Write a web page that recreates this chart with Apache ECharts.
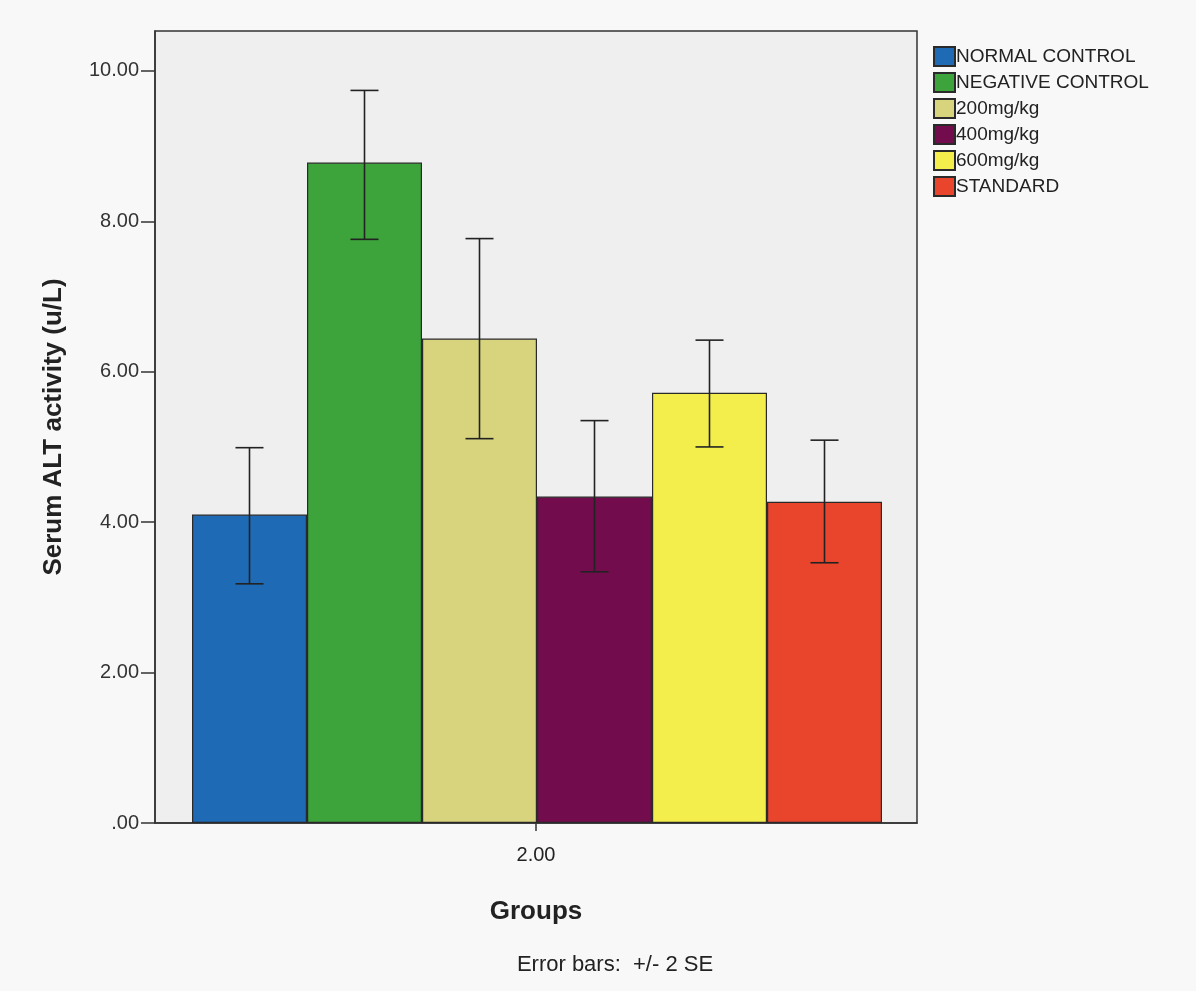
<!DOCTYPE html>
<html><head><meta charset="utf-8">
<script src="https://cdn.jsdelivr.net/npm/echarts@6/dist/echarts.min.js"></script>
<style>html,body{margin:0;padding:0;background:#f8f8f8;}#c{width:1196px;height:991px;}</style>
</head><body><div id="c"></div>
<script>
const groups = ['NORMAL CONTROL','NEGATIVE CONTROL','200mg/kg','400mg/kg','600mg/kg','STANDARD'];
const means = [4.10, 8.78, 6.44, 4.34, 5.72, 4.27];
const errLow = [3.18, 7.76, 5.11, 3.34, 5.00, 3.46];
const errHigh = [4.99, 9.74, 7.77, 5.35, 6.42, 5.09];
const colors = ['#1e6ab4','#3ca43a','#d8d47e','#720c4c','#f4ee4c','#e9442c'];
const xTick = ['2.00'];
const yTicks = [0, 2, 4, 6, 8, 10];
const yMax = 10.53;

const chart = echarts.init(document.getElementById('c'));
const font = 'Liberation Sans, Arial, sans-serif';
const barSeries = groups.map((g, i) => ({
  name: g, type: 'bar', stack: 'all', xAxisIndex: 1, yAxisIndex: 1, barWidth: '100%',
  data: groups.map((_, j) => j === i ? means[i] : '-'),
  itemStyle: { color: colors[i], borderColor: '#2a2a2a', borderWidth: 1.2 },
  emphasis: { disabled: true }
}));
const errSeries = {
  type: 'custom', xAxisIndex: 1, yAxisIndex: 1, z: 10,
  data: groups.map((_, i) => [i, errLow[i], errHigh[i]]),
  renderItem: function (params, api) {
    const lo = api.coord([api.value(0), api.value(1)]);
    const hi = api.coord([api.value(0), api.value(2)]);
    const hw = 14;
    const st = { stroke: '#222', lineWidth: 1.6 };
    return { type: 'group', children: [
      { type: 'line', shape: { x1: lo[0], y1: lo[1], x2: hi[0], y2: hi[1] }, style: st },
      { type: 'line', shape: { x1: lo[0]-hw, y1: lo[1], x2: lo[0]+hw, y2: lo[1] }, style: st },
      { type: 'line', shape: { x1: hi[0]-hw, y1: hi[1], x2: hi[0]+hw, y2: hi[1] }, style: st }
    ]};
  }
};
chart.setOption({
  backgroundColor: '#f8f8f8',
  animation: false,
  textStyle: { fontFamily: font },
  grid: [
    { left: 155, top: 31, right: 279, bottom: 168, show: true, backgroundColor: '#efefef', borderColor: '#333', borderWidth: 1.5 },
    { left: 192, top: 31, right: 314, bottom: 168, show: false }
  ],
  legend: {
    orient: 'vertical', left: 928, top: 41, itemWidth: 21, itemHeight: 19, itemGap: 5,
    icon: 'rect', data: groups,
    textStyle: { fontSize: 19, color: '#222', fontFamily: font, padding: [0,0,0,-4] }
  },
  title: {
    text: 'Error bars:  +/- 2 SE', left: 610, top: 949, textAlign: 'center',
    textStyle: { fontSize: 22, fontWeight: 'normal', color: '#222', fontFamily: font }
  },
  xAxis: [
    { type: 'category', data: xTick, gridIndex: 0, position: 'bottom',
      name: 'Groups', nameLocation: 'middle', nameGap: 76,
      nameTextStyle: { fontSize: 26, fontWeight: 'bold', color: '#222', fontFamily: font },
      axisLine: { show: true, lineStyle: { color: '#333', width: 1.5 } },
      axisTick: { show: true, alignWithLabel: true, length: 8, lineStyle: { color: '#333', width: 1.5 } },
      axisLabel: { fontSize: 20, color: '#222', margin: 22, fontFamily: font } },
    { type: 'category', data: groups, gridIndex: 1,
      axisLine: { show: false }, axisTick: { show: false }, axisLabel: { show: false }, splitLine: { show: false } }
  ],
  yAxis: [
    { type: 'value', gridIndex: 0, min: 0, max: yMax, interval: 2,
      name: 'Serum ALT activity (u/L)', nameLocation: 'middle', nameGap: 88, nameRotate: 90,
      nameTextStyle: { fontSize: 26, fontWeight: 'bold', color: '#222', fontFamily: font },
      axisLine: { show: true, lineStyle: { color: '#333', width: 1.5 } },
      axisTick: { show: true, length: 14, lineStyle: { color: '#333', width: 1.5 } },
      axisLabel: { fontSize: 20, color: '#333', margin: 16, showMaxLabel: false, fontFamily: font,
        formatter: v => yTicks.indexOf(v) < 0 ? '' : (v === 0 ? '.00' : v.toFixed(2)) },
      splitLine: { show: false } },
    { type: 'value', gridIndex: 1, min: 0, max: yMax, show: false, splitLine: { show: false } }
  ],
  series: barSeries.concat([errSeries])
});
</script></body></html>
